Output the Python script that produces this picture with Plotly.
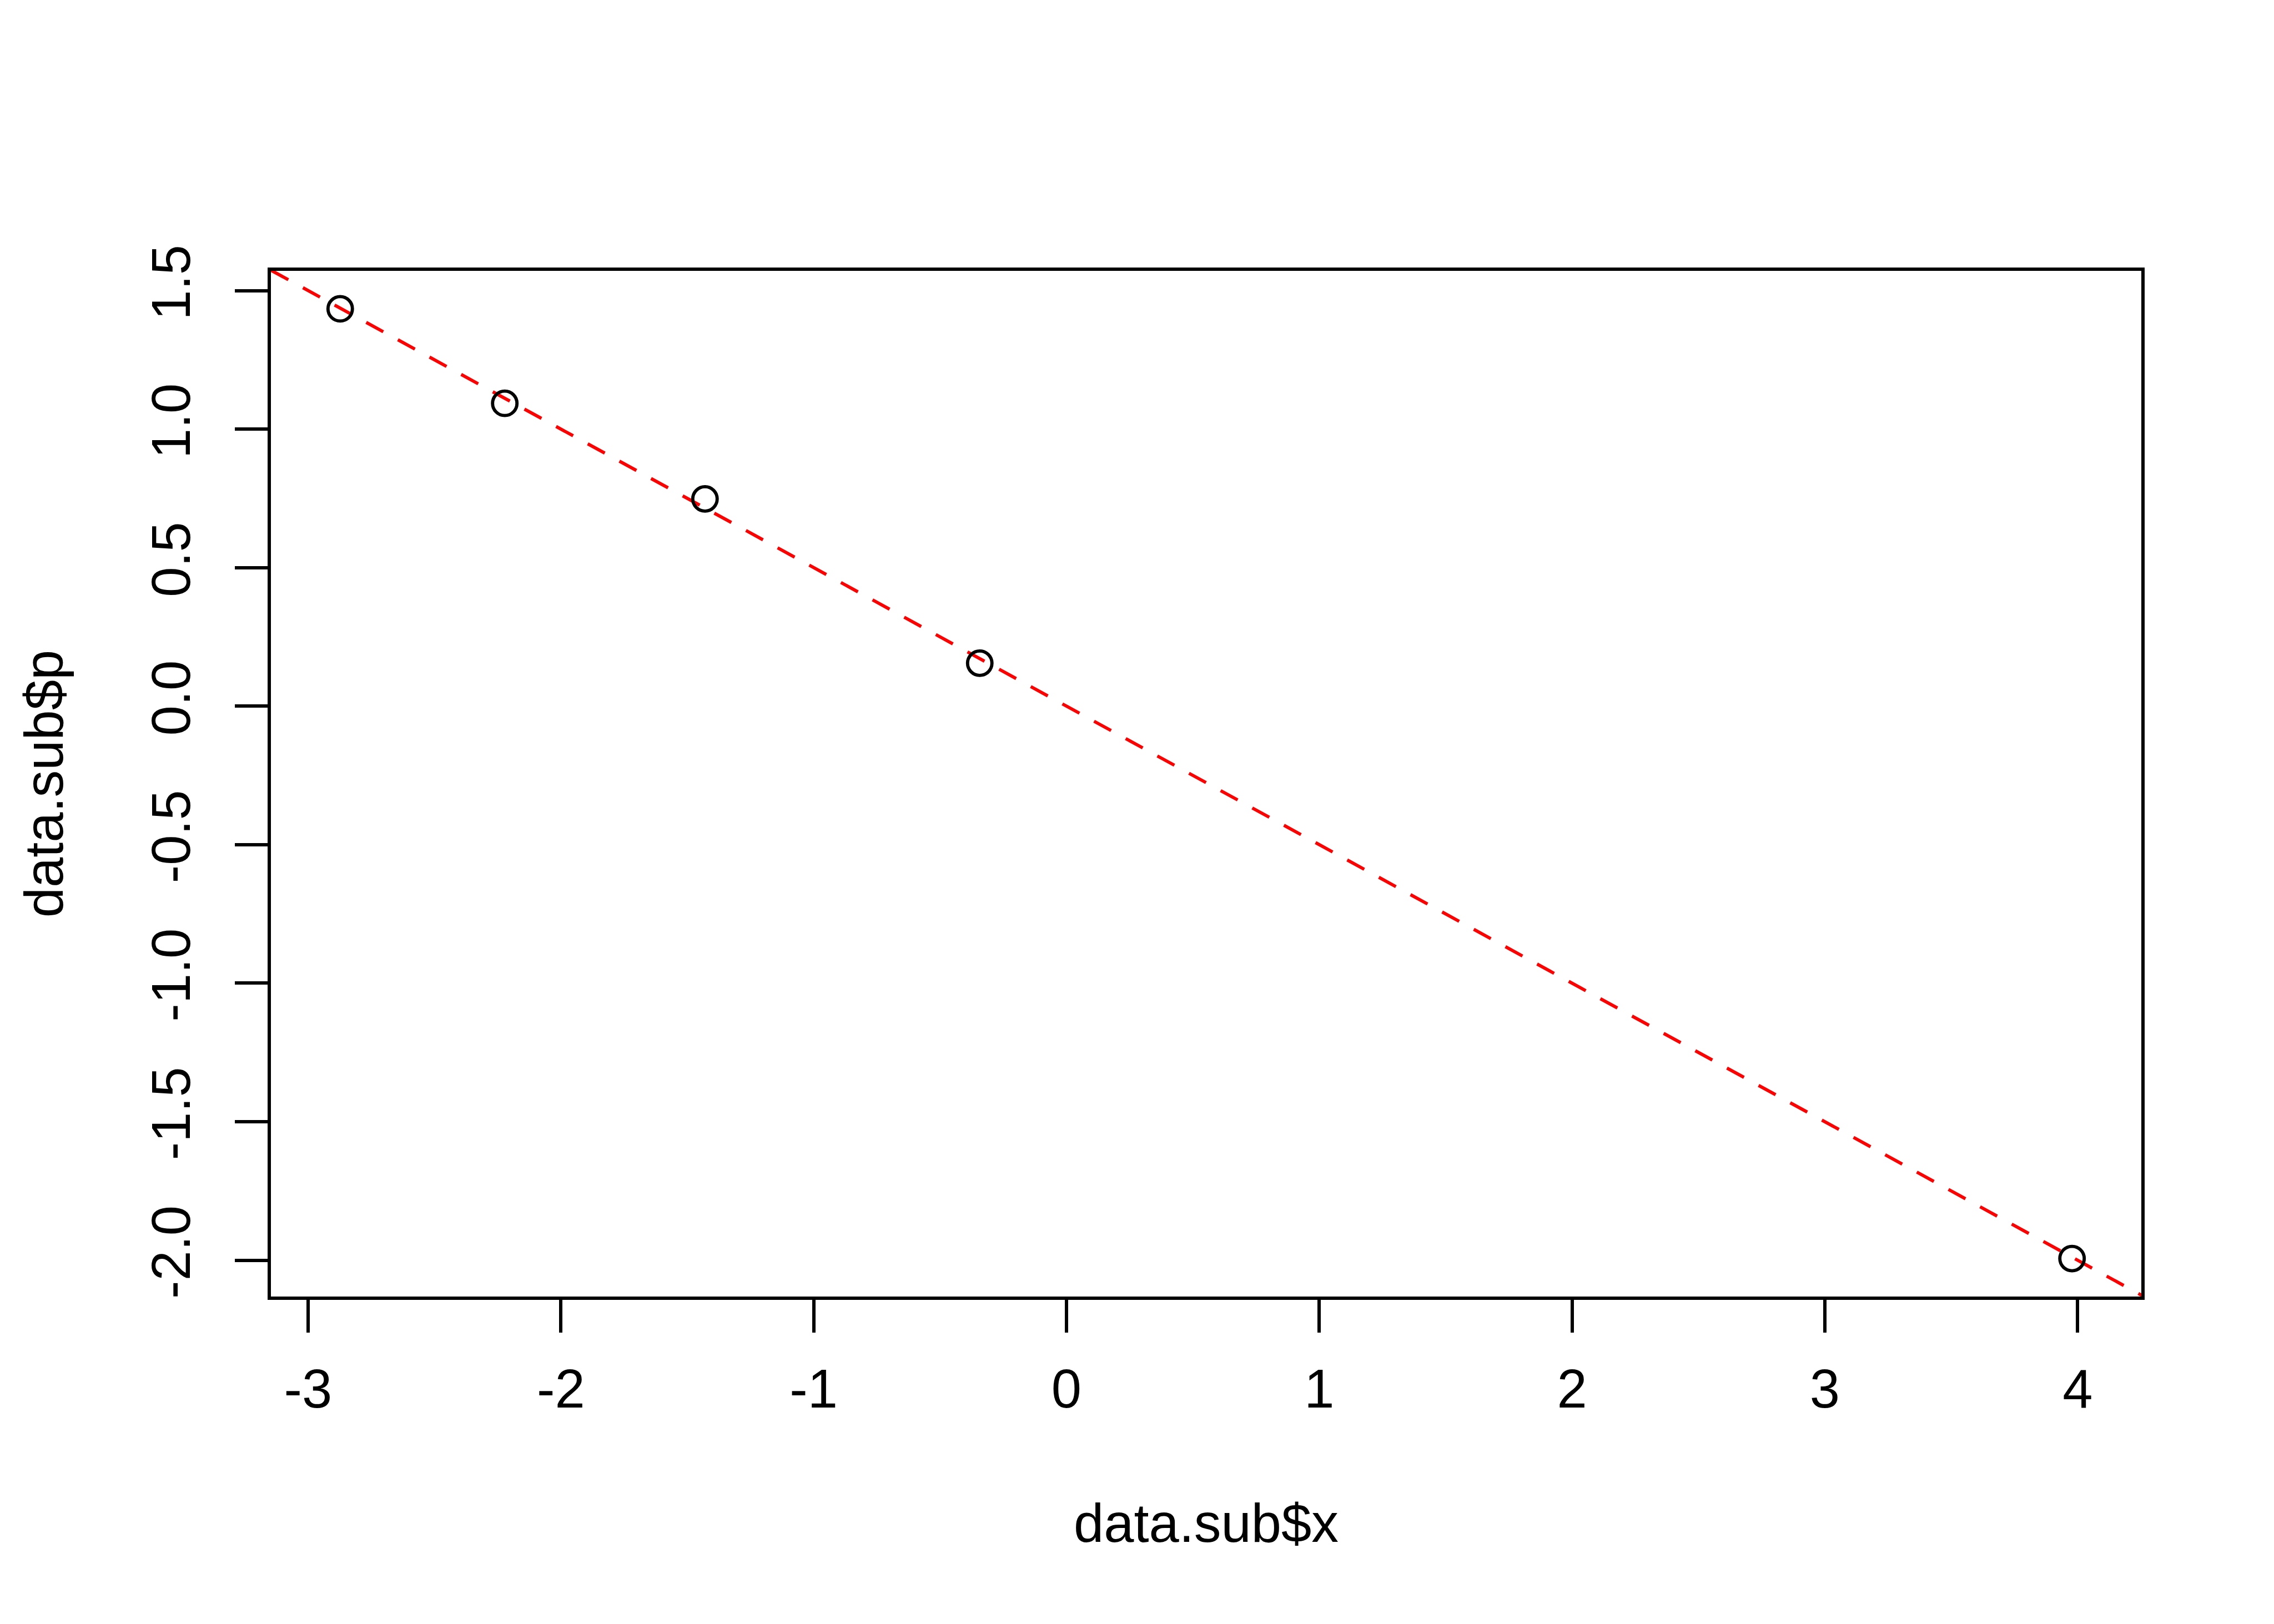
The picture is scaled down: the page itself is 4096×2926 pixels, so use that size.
import plotly.graph_objects as go

# ---- data ----
x_vals = [-2.873, -2.222, -1.430, -0.343, 3.978]
p_vals = [1.434, 1.093, 0.748, 0.155, -1.994]
x_ticks = [-3, -2, -1, 0, 1, 2, 3, 4]
x_tick_labels = ["-3", "-2", "-1", "0", "1", "2", "3", "4"]
y_ticks = [-2.0, -1.5, -1.0, -0.5, 0.0, 0.5, 1.0, 1.5]
y_tick_labels = ["-2.0", "-1.5", "-1.0", "-0.5", "0.0", "0.5", "1.0", "1.5"]
abline_intercept = 0.0
abline_slope = -0.5

S = 0.975
W, H = 4096, 2926
FONT = "Liberation Sans, Arial, Helvetica, sans-serif"
FS = 100 * S
LW = 6 * S

def ext(v):
    lo, hi = min(v), max(v)
    d = (hi - lo) * 0.04
    return [lo - d, hi + d]

xr = ext(x_vals)
yr = ext(p_vals)

fig = go.Figure()
line_x = [xr[0] - 1, xr[1] + 1]
line_y = [abline_intercept + abline_slope * v for v in line_x]
fig.add_trace(go.Scatter(x=line_x, y=line_y, mode="lines",
                         line=dict(color="#FF0000", width=LW, dash="35px,30px"),
                         hoverinfo="skip", showlegend=False))
fig.add_trace(go.Scatter(x=x_vals, y=p_vals, mode="markers",
                         marker=dict(symbol="circle-open", size=44, color="black",
                                     line=dict(width=LW, color="black")),
                         showlegend=False))

L, R, T, B = 480, 247, 480, 598
axis_common = dict(showgrid=False, zeroline=False, showline=True, mirror=True,
                   linecolor="black", linewidth=LW, ticks="outside",
                   ticklen=59.5, tickwidth=LW, tickcolor="black",
                   tickfont=dict(family=FONT, size=FS, color="black"))
fig.update_layout(
    width=W, height=H,
    margin=dict(l=L, r=R, t=T, b=B, pad=0),
    paper_bgcolor="white", plot_bgcolor="white",
    xaxis=dict(range=xr, tickvals=x_ticks, ticktext=x_tick_labels,
               ticklabelstandoff=18, **axis_common),
    yaxis=dict(range=yr, tickvals=y_ticks, ticktext=y_tick_labels, tickangle=-90,
               ticklabelstandoff=42, **axis_common),
    annotations=[
        dict(text="data.sub$x", xref="paper", yref="paper", x=0.5, y=0,
             xanchor="center", yanchor="middle", yshift=-408, showarrow=False,
             font=dict(family=FONT, size=FS, color="black")),
        dict(text="data.sub$p", xref="paper", yref="paper", x=0, y=0.5,
             xanchor="center", yanchor="middle", xshift=-408.7, textangle=-90,
             showarrow=False, font=dict(family=FONT, size=FS, color="black")),
    ],
)
fig.write_html("out.html")
